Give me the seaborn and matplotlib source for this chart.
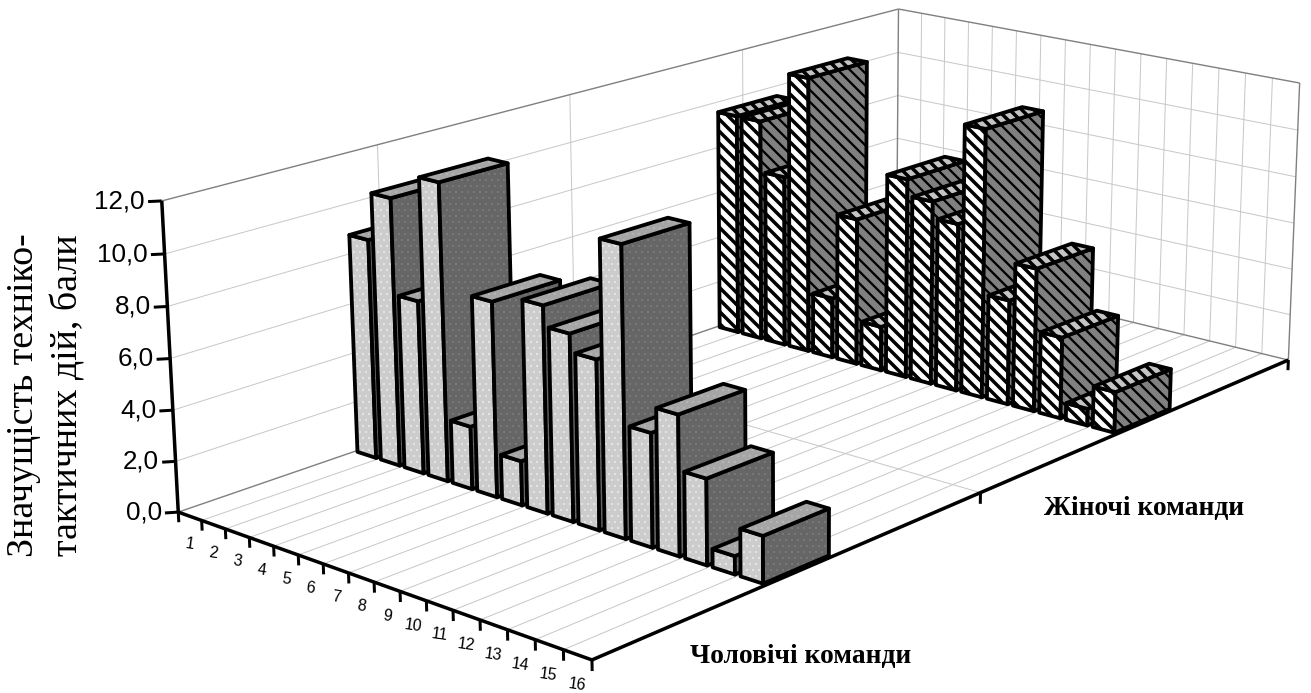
import numpy as np
import matplotlib as mpl
mpl.use('Agg')
import matplotlib.pyplot as plt
import seaborn as sns
from mpl_toolkits.mplot3d import proj3d
from mpl_toolkits.mplot3d.art3d import Poly3DCollection, Line3DCollection

# values
teams = [str(i) for i in range(1, 17)]
men = [8.8, 10.7, 6.9, 11.8, 2.5, 7.7, 1.75, 8.1, 7.3, 6.6, 11.2, 4.4, 5.4, 3.3, 0.7, 1.8]
women = [9.6, 9.6, 7.4, 11.9, 2.6, 6.3, 1.9, 8.5, 7.8, 7.1, 11.3, 4.4, 6.0, 3.4, 0.7, 1.7]
z_ticks = [0, 2, 4, 6, 8, 10, 12]
z_labels = ['0,0', '2,0', '4,0', '6,0', '8,0', '10,0', '12,0']

sns.set_theme(style='white')
plt.rcParams['font.family'] = ['Liberation Sans', 'DejaVu Sans']

W, H = 1311, 693
fig = plt.figure(figsize=(W / 72, H / 72), dpi=72, facecolor='white')
ax = fig.add_axes([0, 0, 1, 1], projection='3d')
ax.apply_aspect = lambda position=None: None
ax.set_axis_off()
ax.computed_zorder = False
ax.set_xlim(0, 16)
ax.set_ylim(0, 2)
ax.set_zlim(0, 12)
ax._viewLim.intervalx = (0, W)
ax._viewLim.intervaly = (H, 0)

# camera fitted to the corners of the chart box
world = [(0, 0, 0), (16, 0, 0), (16, 2, 0), (0, 2, 0), (0, 0, 12), (0, 2, 12), (16, 2, 12)]
image = [(178, 512), (592, 660), (1288, 360), (897, 265), (162, 201), (898, 9), (1300, 83)]
rows = []
for (x, y, z), (u, v) in zip(world, image):
    rows.append([x, y, z, 1, 0, 0, 0, 0, -u * x, -u * y, -u * z, -u])
    rows.append([0, 0, 0, 0, x, y, z, 1, -v * x, -v * y, -v * z, -v])
P = np.linalg.svd(np.array(rows))[2][-1].reshape(3, 4)
M = np.vstack([P[0], P[1], np.linalg.svd(P)[2][-1], P[2]])
ax.get_proj = lambda: M


def line(xs, ys, zs, color='#c8c8c8', lw=1.0, zorder=1):
    seg = Line3DCollection([list(zip(xs, ys, zs))], colors=color, linewidths=lw, capstyle='butt')
    seg.set_zorder(zorder)
    ax.add_collection3d(seg, autolim=False)


def label(x, y, z, s, **kw):
    px, py, _ = proj3d.proj_transform(x, y, z, M)
    ax.text2D(px, py, s, transform=ax.transData, zorder=5000, **kw)


def hatch_width(col, lw):
    # hatch line width is a global setting, so set it just while this face is drawn
    col._hatch_linewidth = lw
    draw = col.draw

    def draw_face(renderer):
        with mpl.rc_context({'hatch.linewidth': lw}):
            draw(renderer)
    col.draw = draw_face


# walls and floor grid
for v in z_ticks[1:-1]:
    line([0, 0], [0, 2], [v, v])
    line([0, 16], [2, 2], [v, v])
for y in [0.5, 1, 1.5]:
    line([0, 0], [y, y], [0, 12])
line([0, 16], [1, 1], [0, 0])
for i in range(1, 17):
    line([i, i], [0, 2], [0, 0])
for i in range(1, 16):
    line([i, i], [2, 2], [0, 12])
for xs, ys, zs in [([0, 0], [0, 2], [12, 12]), ([0, 16], [2, 2], [12, 12]), ([0, 0], [2, 2], [0, 12]),
                   ([16, 16], [2, 2], [0, 12]), ([0, 0], [0, 2], [0, 0]), ([0, 16], [2, 2], [0, 0])]:
    line(xs, ys, zs, color='#808080', lw=1.4, zorder=2)

# axes
line([0, 0], [0, 0], [0, 12], color='black', lw=3.5, zorder=3)
line([0, 16], [0, 0], [0, 0], color='black', lw=3.5, zorder=3)
line([16, 16], [0, 2], [0, 0], color='black', lw=3.5, zorder=3)
for v, s in zip(z_ticks, z_labels):
    line([0, -0.23], [0, -0.018], [v, v], color='black', lw=3, zorder=3)
    label(-0.33, -0.02, v, s, fontsize=26, ha='right', va='center', color='black')
for i in range(17):
    line([i, i], [0, 0], [0, -0.4], color='black', lw=3, zorder=3)
for y in [1, 2]:
    line([16, 16], [y, y], [0, -0.45], color='black', lw=3, zorder=3)
for i, s in enumerate(teams):
    label(i + 0.45, 0, -1.12, s, fontsize=16, ha='center', va='center', rotation=-8, color='black')

series = [
    dict(vals=women, y0=1.42, depth=0.18, hatch='\\\\', front='#ffffff', side='#808080', top='#c4c4c4',
         hatch_colors=('black', 'black', 'black'), hatch_lw=(3.5, 2.3, 3.5)),
    dict(vals=men, y0=0.42, depth=0.17, hatch='..', front='#cccccc', side='#666666', top='#a6a6a6',
         hatch_colors=('#ffffff', '#8c8c8c', '#c4c4c4'), hatch_lw=(0.3, 0.3, 0.3)),
]
bar_w = 0.80
order = 10
for s in series:
    y0, y1 = s['y0'], s['y0'] + s['depth']
    for i, h in enumerate(s['vals']):
        x0, x1 = i + 0.05, i + 0.05 + bar_w
        faces = [
            [(x0, y0, 0), (x1, y0, 0), (x1, y0, h), (x0, y0, h)],
            [(x1, y0, 0), (x1, y1, 0), (x1, y1, h), (x1, y0, h)],
            [(x0, y0, h), (x1, y0, h), (x1, y1, h), (x0, y1, h)],
        ]
        for face, fc, hc, hlw in zip(faces, (s['front'], s['side'], s['top']), s['hatch_colors'], s['hatch_lw']):
            fill = Poly3DCollection([face], facecolors=fc, edgecolors=hc, linewidths=0, hatch=s['hatch'])
            fill.set_zorder(order)
            hatch_width(fill, hlw)
            ax.add_collection3d(fill, autolim=False)
            edge = Poly3DCollection([face], facecolors=(0, 0, 0, 0), edgecolors='black', linewidths=3.8)
            edge.set_zorder(order + 1)
            ax.add_collection3d(edge, autolim=False)
            order += 2

fig.text(24 / W, 1 - 395 / H, 'Значущість техніко-', family='Liberation Serif', rotation=90, fontsize=38,
         ha='center', va='center', color='black')
fig.text(68 / W, 1 - 395 / H, 'тактичних дій, бали', family='Liberation Serif', rotation=90, fontsize=38,
         ha='center', va='center', color='black')
fig.text(801 / W, 1 - 657 / H, 'Чоловічі команди', family='Liberation Serif', weight='bold', fontsize=27.5,
         ha='center', va='center', color='black')
fig.text(1144 / W, 1 - 509 / H, 'Жіночі команди', family='Liberation Serif', weight='bold', fontsize=27.5,
         ha='center', va='center', color='black')

fig.savefig('out.png', dpi=72)
